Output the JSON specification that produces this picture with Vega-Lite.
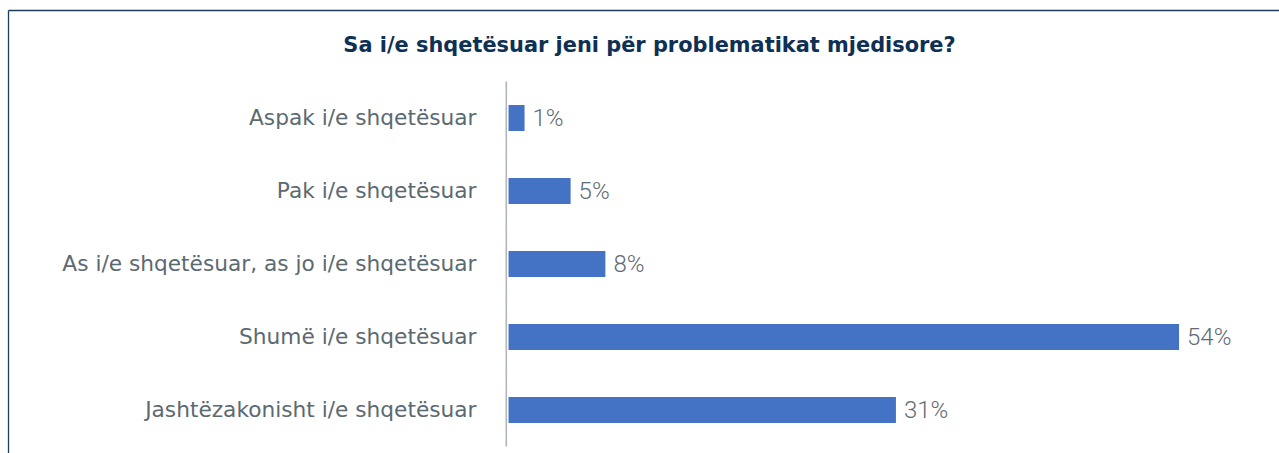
{
  "$schema": "https://vega.github.io/schema/vega-lite/v6.json",
  "width": 1279,
  "height": 453,
  "autosize": {"type": "fit", "contains": "padding"},
  "padding": {"left": 8, "top": 10, "right": 0, "bottom": 0},
  "background": "white",
  "config": {"view": {"stroke": null}},
  "title": {
    "text": "Sa i/e shqetësuar jeni për problematikat mjedisore?",
    "anchor": "middle",
    "offset": -46,
    "dx": 6,
    "font": "DejaVu Sans",
    "fontSize": 20.9,
    "fontWeight": "bold",
    "color": "#0e3054"
  },
  "data": {
    "values": [
      {"category": "Aspak i/e shqetësuar", "value": 1.29, "label": "1%"},
      {"category": "Pak i/e shqetësuar", "value": 5.0, "label": "5%"},
      {"category": "As i/e shqetësuar, as jo i/e shqetësuar", "value": 7.8, "label": "8%"},
      {"category": "Shumë i/e shqetësuar", "value": 54.0, "label": "54%"},
      {"category": "Jashtëzakonisht i/e shqetësuar", "value": 31.2, "label": "31%"}
    ]
  },
  "encoding": {
    "y": {
      "field": "category",
      "type": "nominal",
      "sort": null,
      "scale": {"paddingInner": 0.644, "paddingOuter": 0.856, "align": 0.76},
      "axis": {
        "orient": "left",
        "title": null,
        "ticks": false,
        "grid": false,
        "domain": true,
        "domainColor": "#1d3d5f",
        "domainWidth": 1.3,
        "labelPadding": -468,
        "labelAlign": "right",
        "labelLimit": 0,
        "labelFont": "DejaVu Sans",
        "labelFontSize": 21.7,
        "labelColor": "#5b6971"
      }
    }
  },
  "layer": [
    {
      "mark": {"type": "tick", "orient": "vertical", "size": 73, "thickness": 1.6, "color": "#8f989f"},
      "encoding": {
        "x": {
          "datum": -0.18,
          "type": "quantitative",
          "scale": {"domain": [-40.31, 62.05], "nice": false, "zero": false},
          "axis": {
            "orient": "top",
            "title": null,
            "labels": false,
            "ticks": false,
            "grid": false,
            "domain": true,
            "domainColor": "#1d3d5f",
            "domainWidth": 1.3
          }
        }
      }
    },
    {
      "mark": {"type": "bar", "color": "#4472c4"},
      "encoding": {
        "x": {"field": "value", "type": "quantitative"},
        "x2": {"datum": 0}
      }
    },
    {
      "mark": {"type": "text", "align": "left", "baseline": "middle", "dx": 8, "dy": 1, "font": "Roboto", "fontWeight": 300, "fontSize": 24, "color": "#5f6b74"},
      "encoding": {
        "x": {"field": "value", "type": "quantitative"},
        "text": {"field": "label"}
      }
    }
  ]
}
